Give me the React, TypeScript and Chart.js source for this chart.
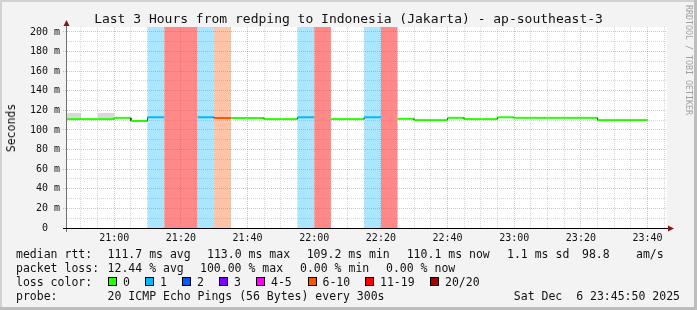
import { useEffect, useRef } from "react";
import { Chart, registerables } from "chart.js";
Chart.register(...registerables);

// ---------- data ----------
const titleText = "Last 3 Hours from redping to Indonesia (Jakarta) - ap-southeast-3";
const yAxisTitle = "Seconds";
const watermark = "RRDTOOL / TOBI OETIKER";
const rangeStart = "20:45:50";
const rangeEnd = "23:45:50";
const slotMinutes = 5;

const slotTimes = [
  "20:45", "20:50", "20:55", "21:00", "21:05", "21:10", "21:15", "21:20", "21:25", "21:30",
  "21:35", "21:40", "21:45", "21:50", "21:55", "22:00", "22:05", "22:10", "22:15", "22:20",
  "22:25", "22:30", "22:35", "22:40", "22:45", "22:50", "22:55", "23:00", "23:05", "23:10",
  "23:15", "23:20", "23:25", "23:30", "23:35",
];
// median rtt in ms (null = every ping lost)
const medianRtt: (number | null)[] = [
  111.1, 111.1, 111.1, 112.4, 109.2, 113.0, null, null, 113.0, 112.2,
  112.2, 112.2, 111.1, 111.1, 113.0, null, 111.1, 111.1, 113.0, null,
  111.4, 110.1, 110.1, 112.4, 111.1, 111.1, 113.0, 112.4, 112.4, 112.4,
  112.4, 112.4, 110.1, 110.1, 110.1,
];
// lost pings out of 20
const lostPings = [
  0, 0, 0, 0, 0, 1, 20, 20, 1, 6,
  0, 0, 0, 0, 1, 20, 0, 0, 1, 20,
  0, 0, 0, 0, 0, 0, 0, 0, 0, 0,
  0, 0, 0, 0, 0,
];
const smokeLow: (number | null)[] = [
  110.4, null, 110.4, null, null, null, null, null, null, null,
  null, null, null, null, null, null, null, null, null, null,
  null, null, null, null, null, null, null, null, null, null,
  null, null, null, null, null,
];
const smokeHigh: (number | null)[] = [
  117.3, null, 117.3, null, null, null, null, null, null, null,
  null, null, null, null, null, null, null, null, null, null,
  null, null, null, null, null, null, null, null, null, null,
  null, null, null, null, null,
];

const yMax = 205.1;
const yTickValues = [0, 20, 40, 60, 80, 100, 120, 140, 160, 180, 200];
const yTickLabels = ["0", "20 m", "40 m", "60 m", "80 m", "100 m", "120 m", "140 m", "160 m", "180 m", "200 m"];
const yMinorStep = 10;
const xTickLabels = ["21:00", "21:20", "21:40", "22:00", "22:20", "22:40", "23:00", "23:20", "23:40"];
const xMinorStep = 5;

const lossBinLabels = ["0", "1", "2", "3", "4-5", "6-10", "11-19", "20/20"];
const lossBinMax = [0, 1, 2, 3, 5, 10, 19, 20];
const lossBinColors = ["#26ff00", "#00b8ff", "#0059ff", "#7e00ff", "#ff00ff", "#ff5500", "#ff0000", "#a00000"];
const lossBandColors = ["", "#aae6ff", "#aac4ff", "#d6aaff", "#ffaaff", "#ffc4a8", "#ff8888", "#ff8888"];

const rttLabel = "median rtt:";
const rttStats = ["111.7 ms avg", "113.0 ms max", "109.2 ms min", "110.1 ms now", "1.1 ms sd", "98.8", "am/s"];
const lossLabel = "packet loss:";
const lossStats = ["12.44 % avg", "100.00 % max", "0.00 % min", "0.00 % now"];
const lossColorLabel = "loss color:";
const probeLabel = "probe:";
const probeText = "20 ICMP Echo Pings (56 Bytes) every 300s";
const stampText = "Sat Dec  6 23:45:50 2025";

// ---------- layout (not data) ----------
const rttX = [107.6, 207, 306.7, 406.7, 507, 582, 636];
const lossX = [107.6, 200, 300, 386];
const swatchX = [108, 145, 182, 219, 256, 307.5, 365, 430];
const rowTop = [247, 261, 275, 289];

const mono = "'DejaVu Sans Mono', monospace";

const toMin = (s: string) => {
  const p = s.split(":").map(Number);
  return p[0] * 60 + p[1] + (p[2] || 0) / 60;
};
const binOf = (lost: number) => lossBinMax.findIndex((m) => lost <= m);

export default function App() {
  const ref = useRef<HTMLCanvasElement | null>(null);

  useEffect(() => {
    document.body.style.margin = "0";
    const canvas = ref.current;
    if (!canvas) return;

    const xMin = toMin(rangeStart);
    const xMax = toMin(rangeEnd);
    const starts = slotTimes.map(toMin);

    // median line points
    const linePts: { x: number; y: number | null }[] = [];
    const lineSlot: number[] = [];
    medianRtt.forEach((v, i) => {
      const s = starts[i];
      const e = s + slotMinutes;
      if (v == null) {
        linePts.push({ x: s, y: null });
        lineSlot.push(i);
        return;
      }
      linePts.push({ x: s, y: v }, { x: e, y: v });
      lineSlot.push(i, i);
    });

    const pairPts = (vals: (number | null)[], keep: (i: number) => boolean) => {
      const pts: { x: number; y: number | null }[] = [];
      vals.forEach((v, i) => {
        const s = starts[i];
        if (v == null || !keep(i)) {
          pts.push({ x: s, y: null });
          return;
        }
        pts.push({ x: s, y: v }, { x: s + slotMinutes, y: v });
      });
      return pts;
    };

    const bandSets: any[] = [];
    for (let b = 1; b < lossBinLabels.length; b++) {
      if (!lostPings.some((l) => binOf(l) === b)) continue;
      bandSets.push({
        data: pairPts(lostPings.map(() => yMax), (i) => binOf(lostPings[i]) === b),
        borderWidth: 0,
        backgroundColor: lossBandColors[b],
        fill: "origin",
        pointRadius: 0,
        clip: 0,
      });
    }

    const datasets: any[] = [
      {
        data: linePts,
        borderWidth: 2,
        borderColor: lossBinColors[0],
        borderCapStyle: "butt",
        pointRadius: 0,
        fill: false,
        clip: 0,
        segment: {
          borderColor: (ctx: any) => {
            if (ctx.p0.parsed.x === ctx.p1.parsed.x) return "#333333";
            return lossBinColors[binOf(lostPings[lineSlot[ctx.p0DataIndex]])];
          },
          borderWidth: (ctx: any) => (ctx.p0.parsed.x === ctx.p1.parsed.x ? 1 : 2),
        },
      },
      {
        data: pairPts(smokeHigh, () => true),
        borderWidth: 0,
        backgroundColor: "#d8d8d8",
        fill: "+1",
        pointRadius: 0,
        clip: 0,
      },
      {
        data: pairPts(smokeLow, () => true),
        borderWidth: 0,
        fill: false,
        pointRadius: 0,
        clip: 0,
      },
      ...bandSets,
    ];

    const xGrid: number[] = [];
    for (let v = Math.ceil(xMin / xMinorStep) * xMinorStep; v <= xMax; v += xMinorStep) xGrid.push(v);
    const yGrid: number[] = [];
    for (let v = 0; v <= yTickValues[yTickValues.length - 1]; v += yMinorStep) yGrid.push(v);
    const xMajor = xTickLabels.map(toMin);

    const majorColor = "rgba(230,80,80,0.42)";
    const minorColor = "rgba(130,130,130,0.32)";

    const decor = {
      id: "decor",
      beforeDraw(chart: any) {
        const { ctx, chartArea: a, width, height } = chart;
        ctx.save();
        ctx.fillStyle = "#f3f3f3";
        ctx.fillRect(0, 0, width, height);
        ctx.fillStyle = "#d2d2d2";
        ctx.fillRect(0, 0, width, 2);
        ctx.fillRect(0, 0, 2, height);
        ctx.fillStyle = "#bdbdbd";
        ctx.fillRect(width - 3, 0, 3, height);
        ctx.fillRect(0, height - 3, width, 3);
        ctx.fillStyle = "#ffffff";
        ctx.fillRect(a.left, a.top, a.right - a.left, a.bottom - a.top);
        ctx.restore();
      },
      afterDraw(chart: any) {
        const { ctx, chartArea: a } = chart;
        ctx.save();
        // y axis
        ctx.strokeStyle = "#707070";
        ctx.lineWidth = 1;
        ctx.beginPath();
        ctx.moveTo(a.left - 0.5, a.bottom + 4);
        ctx.lineTo(a.left - 0.5, a.top - 5);
        ctx.stroke();
        // x axis
        ctx.strokeStyle = "#000000";
        ctx.beginPath();
        ctx.moveTo(a.left - 4, a.bottom + 0.5);
        ctx.lineTo(a.right + 2, a.bottom + 0.5);
        ctx.stroke();
        // arrows
        ctx.fillStyle = "#8a1515";
        ctx.beginPath();
        ctx.moveTo(a.left - 0.5, a.top - 7);
        ctx.lineTo(a.left - 3.5, a.top - 1);
        ctx.lineTo(a.left + 2.5, a.top - 1);
        ctx.closePath();
        ctx.fill();
        ctx.beginPath();
        ctx.moveTo(a.right + 7, a.bottom + 0.5);
        ctx.lineTo(a.right + 1, a.bottom - 2.5);
        ctx.lineTo(a.right + 1, a.bottom + 3.5);
        ctx.closePath();
        ctx.fill();
        ctx.restore();
      },
    };

    const chart = new Chart(canvas, {
      type: "line",
      data: { datasets },
      options: {
        animation: false,
        responsive: false,
        events: [],
        layout: { padding: { top: 27, right: 30, left: 0, bottom: 0 } },
        plugins: {
          legend: { display: false },
          tooltip: { enabled: false },
          title: { display: false },
        },
        elements: { point: { radius: 0 }, line: { tension: 0 } },
        scales: {
          x: {
            type: "linear",
            min: xMin,
            max: xMax,
            afterFit: (s: any) => {
              s.height = 82;
            },
            afterBuildTicks: (s: any) => {
              s.ticks = xGrid.map((v) => ({ value: v }));
            },
            ticks: {
              autoSkip: false,
              maxRotation: 0,
              padding: 4,
              color: "#111111",
              font: { family: mono, size: 10 },
              callback: (v: any) => {
                const k = xMajor.findIndex((m) => Math.abs(m - v) < 1e-6);
                return k >= 0 ? xTickLabels[k] : "";
              },
            },
            grid: {
              z: 1,
              drawTicks: false,
              lineWidth: 1,
              color: (ctx: any) =>
                xMajor.some((m) => Math.abs(m - ctx.tick?.value) < 1e-6) ? majorColor : minorColor,
            },
            border: { display: false, dash: [1, 1] },
          },
          y: {
            type: "linear",
            min: 0,
            max: yMax,
            afterFit: (s: any) => {
              s.width = 67;
            },
            afterBuildTicks: (s: any) => {
              s.ticks = yGrid.map((v) => ({ value: v }));
            },
            ticks: {
              autoSkip: false,
              padding: 3,
              color: "#111111",
              font: { family: mono, size: 10 },
              callback: (v: any) => {
                const k = yTickValues.indexOf(v);
                if (k < 0) return "";
                return yTickLabels[k] === "0" ? "0  " : yTickLabels[k];
              },
            },
            grid: {
              z: 1,
              drawTicks: true,
              tickLength: 4,
              lineWidth: 1,
              tickBorderDash: [1, 1],
              color: (ctx: any) => (yTickValues.includes(ctx.tick?.value) ? majorColor : minorColor),
              tickColor: (ctx: any) =>
                yTickValues.includes(ctx.tick?.value) ? majorColor : "rgba(0,0,0,0)",
            },
            border: { display: false, dash: [1, 1] },
          },
        },
      } as any,
      plugins: [decor],
    });
    return () => chart.destroy();
  }, []);

  const txt: any = {
    position: "absolute",
    whiteSpace: "pre",
    fontFamily: mono,
    fontSize: "11.5px",
    lineHeight: "14px",
    color: "#111",
  };

  return (
    <div style={{ position: "relative", width: 697, height: 310, overflow: "hidden" }}>
      <canvas ref={ref} width={697} height={310} style={{ position: "absolute", left: 0, top: 0 }} />
      <div
        style={{
          position: "absolute",
          left: 0,
          top: 11,
          width: 697,
          textAlign: "center",
          whiteSpace: "pre",
          fontFamily: mono,
          fontSize: "13px",
          lineHeight: "16px",
          color: "#111",
        }}
      >
        {titleText}
      </div>
      <div
        style={{
          ...txt,
          left: 10.5,
          top: 127.5,
          transform: "translate(-50%, -50%) rotate(-90deg)",
        }}
      >
        {yAxisTitle}
      </div>
      <div
        style={{
          position: "absolute",
          left: 683,
          top: 5,
          width: 11,
          lineHeight: "11px",
          writingMode: "vertical-rl",
          whiteSpace: "pre",
          fontFamily: mono,
          fontSize: "8.3px",
          color: "#a0a0a0",
        }}
      >
        {watermark}
      </div>

      <div style={{ ...txt, left: 16, top: rowTop[0] }}>{rttLabel}</div>
      {rttStats.map((s, i) => (
        <div key={"r" + i} style={{ ...txt, left: rttX[i], top: rowTop[0] }}>
          {s}
        </div>
      ))}

      <div style={{ ...txt, left: 16, top: rowTop[1] }}>{lossLabel}</div>
      {lossStats.map((s, i) => (
        <div key={"l" + i} style={{ ...txt, left: lossX[i], top: rowTop[1] }}>
          {s}
        </div>
      ))}

      <div style={{ ...txt, left: 16, top: rowTop[2] }}>{lossColorLabel}</div>
      {lossBinLabels.map((s, i) => (
        <div key={"c" + i}>
          <div
            style={{
              position: "absolute",
              left: swatchX[i],
              top: 277,
              width: 7,
              height: 7,
              border: "1px solid #000",
              background: lossBinColors[i],
            }}
          />
          <div style={{ ...txt, left: swatchX[i] + 15, top: rowTop[2] }}>{s}</div>
        </div>
      ))}

      <div style={{ ...txt, left: 16, top: rowTop[3] }}>{probeLabel}</div>
      <div style={{ ...txt, left: 107.6, top: rowTop[3] }}>{probeText}</div>
      <div style={{ ...txt, right: 697 - 680, top: rowTop[3] }}>{stampText}</div>
    </div>
  );
}
